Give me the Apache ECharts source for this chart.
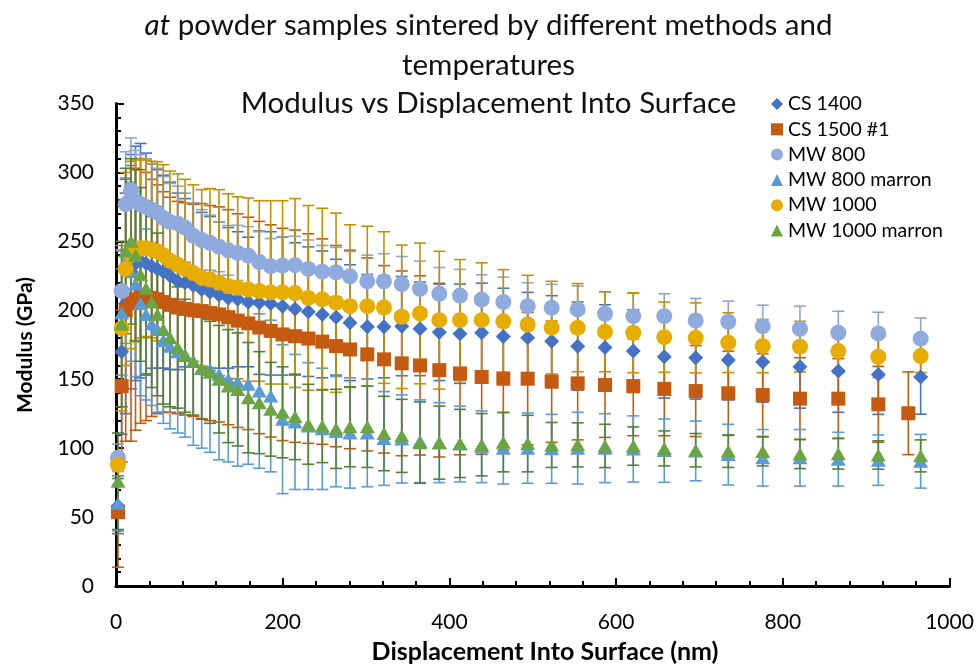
<!DOCTYPE html>
<html><head><meta charset="utf-8">
<script src="https://cdn.jsdelivr.net/npm/echarts@6/dist/echarts.min.js"></script>
<style>html,body{margin:0;padding:0;background:#fff}#c{width:977px;height:664px}</style>
</head><body><div id="c"></div>
<script>
// Displacement Into Surface (nm), shared indentation depths
const depth = [2.4, 6.8, 11.6, 18, 23.4, 29.4, 36, 42.8, 49.6, 56.7, 64.8, 74, 82.8, 92.7, 102.8, 112.8, 123.6, 134.7, 146, 158.7, 171.9, 185.6, 199.8, 214.8, 230.7, 247.5, 264, 280.7, 301.5, 321.5, 342.8, 364.7, 387.9, 412.7, 438.7, 464.7, 493.9, 522.7, 553.9, 586.7, 620.6, 657.8, 695.5, 734.6, 775.9, 820.6, 866.6, 914.6, 965.4];
const depthCS1500 = [2.4, 6.8, 11.6, 18, 23.4, 29.4, 36, 42.8, 49.6, 56.7, 64.8, 74, 82.8, 92.7, 102.8, 112.8, 123.6, 134.7, 146, 158.7, 171.9, 185.6, 199.8, 214.8, 230.7, 247.5, 264, 280.7, 301.5, 321.5, 342.8, 364.7, 387.9, 412.7, 438.7, 464.7, 493.9, 522.7, 553.9, 586.7, 620.6, 657.8, 695.5, 734.6, 775.9, 820.6, 866.6, 914.6, 950.6];

// Modulus (GPa) and error (GPa)
const cs1400 = [58, 170, 205, 228, 234, 236, 234, 232, 230, 228, 225, 221, 220, 218, 215, 213, 211, 209, 208, 206, 205.5, 205, 203, 201, 199, 197, 195, 191, 188, 188, 188.5, 186.6, 184, 183, 183.7, 181, 180, 177.6, 174, 173, 170.4, 166.3, 165.6, 164, 162.4, 159, 156, 153.5, 151.6];
const cs1400Err = [20, 60, 80, 85, 85, 85, 80, 74, 72, 70, 68, 64, 61, 59, 56, 55, 53, 51, 49, 47, 52, 52, 50, 48, 47, 46, 42, 42, 38, 37, 36, 34, 35, 36, 36, 35, 33, 33, 32, 31, 30, 30, 30, 29, 29, 30, 30, 29, 27];

const cs1500 = [53.6, 145, 200, 205, 208, 210, 210, 209, 208, 206, 204, 202, 201, 200, 199.4, 198, 197, 195, 192.5, 190.5, 187.5, 185, 182.5, 181.2, 179.5, 177.3, 174, 171.6, 168, 164.4, 161.5, 160, 156.6, 154.2, 151.6, 150.6, 150.4, 148.2, 147, 145.8, 145, 143, 141.4, 139.8, 138.5, 135.9, 135.9, 131.8, 125.3];
const cs1500Err = [40, 55, 95, 100, 95, 92, 90, 86, 83, 80, 78, 77, 77, 77, 78, 78, 78, 78, 77.5, 77, 77, 77, 77, 77, 76, 74.5, 73, 72, 70, 68, 67, 65, 63, 59, 56, 52, 48, 44, 41, 38, 36, 34, 33, 30.6, 30, 29.7, 29, 27.5, 30];

const mw800 = [93, 214, 277, 287, 279, 277, 275, 273, 271, 267, 264, 263, 260, 254, 251, 249, 246, 243.5, 241.6, 239.7, 235, 232, 232.4, 232.7, 230, 228, 227.6, 224.7, 221, 221, 219, 215.6, 212, 210.7, 207.8, 206, 203, 201.8, 200.6, 197.5, 195.7, 195.7, 192.6, 191.7, 188.5, 186.6, 183.7, 183.2, 179.4];
const mw800Err = [10, 30, 38, 38, 37, 36, 35, 33, 32, 30, 28, 27, 25, 24, 22, 20, 18, 18, 20, 21, 22, 20, 21, 21, 21, 19, 18, 18, 19, 20, 20, 20, 19, 19, 18, 18, 17, 17, 17, 16, 16.7, 16.3, 16, 15, 15.2, 16.4, 15.6, 15.4, 15];

const mw800Marron = [60, 198, 236, 228, 219, 205, 197, 190, 186, 178, 174, 170, 168, 163, 158, 157, 153.5, 150, 148, 146.3, 141.4, 137.8, 121, 119, 116, 114, 112, 111, 111, 107, 106.7, 105, 104, 103, 101, 100, 100, 99.5, 100, 100, 99.4, 98.2, 98, 95.3, 93, 93, 92, 91.3, 90.5];
const mw800MarronErr = [20, 45, 60, 65, 67, 67, 62, 59, 60, 60, 60, 59, 60, 61, 58, 60, 62, 60, 61, 58, 56, 55, 54, 49, 46, 44, 40, 40, 39, 34, 32, 30, 29, 27.5, 26, 26, 25.5, 25, 26, 25, 24, 23, 21.7, 22, 20.5, 20.5, 19.5, 18.3, 19.5];

const mw1000 = [88, 187, 230, 240, 243, 245, 245, 244, 242.8, 240, 236, 233, 230, 227, 223.5, 222.3, 220, 217.5, 216.3, 215, 214, 213, 213, 212.5, 209, 208, 205.5, 203, 203, 202, 195.3, 197.7, 192.8, 192.8, 192.8, 192, 189.7, 187.4, 187.4, 184.4, 183.7, 180.5, 180, 176.5, 174, 173.6, 170.4, 166.3, 166.8];
const mw1000Err = [8, 60, 70, 68, 66, 65, 64, 64, 65, 65.6, 65, 66, 65, 64, 64, 66, 67.5, 67, 66, 66.5, 65.5, 66.5, 66.5, 68.5, 67, 66, 65, 59, 58, 55, 52, 51, 50, 44, 41.6, 37.5, 35.7, 33.6, 32, 29, 29, 25.5, 25.4, 21.7, 19.3, 18.4, 16, 15, 12];

const mw1000Marron = [76, 190, 243, 250, 240, 226, 216, 206, 197, 186, 180, 173, 167, 163, 158, 155, 150, 145, 142.6, 136.6, 133, 128.2, 126, 122.7, 117.3, 116, 114, 115.5, 115.5, 110.6, 108.9, 104, 104, 103.4, 102.5, 104.3, 103.3, 102.3, 102.4, 101.6, 101.5, 99.8, 98.5, 97.8, 97.6, 95.8, 96, 95, 94.4];
const mw1000MarronErr = [35, 60, 60, 60, 62, 63, 63, 62, 59, 54, 50, 44, 41, 39, 37, 37, 39, 41, 41, 40, 37, 34, 33, 31, 29, 26.5, 28.7, 29, 29.5, 27, 26.5, 29.5, 26.5, 24.7, 22.6, 21.5, 20.5, 16.3, 16, 15.7, 13.9, 12.7, 12.1, 11.8, 10.5, 10.6, 11.2, 10.3, 11.6];

const seriesNames = ['CS 1400', 'CS 1500 #1', 'MW 800', 'MW 800 marron', 'MW 1000', 'MW 1000 marron'];
const titleLine1 = '{it|at} powder samples sintered by different methods and';
const titleLine2 = 'temperatures';
const titleLine3 = 'Modulus vs Displacement Into Surface';
const xAxisTitle = 'Displacement Into Surface (nm)';
const yAxisTitle = 'Modulus (GPa)';

const FONT = 'Lato, "Open Sans", sans-serif';
const TITLE_SIZE = 29.5;

const defs = [
  {name: seriesNames[0], x: depth, y: cs1400, e: cs1400Err, symbol: 'diamond', size: [15, 15], color: '#4472C4', bar: '#4472C4'},
  {name: seriesNames[1], x: depthCS1500, y: cs1500, e: cs1500Err, symbol: 'rect', size: [14, 14], color: '#C55A11', bar: '#C55A11'},
  {name: seriesNames[2], x: depth, y: mw800, e: mw800Err, symbol: 'circle', size: [16, 16], color: '#8FAADC', bar: '#8EA5CF'},
  {name: seriesNames[3], x: depth, y: mw800Marron, e: mw800MarronErr, symbol: 'triangle', size: [15, 13], color: '#5B9BD5', bar: '#5B9BD5'},
  {name: seriesNames[4], x: depth, y: mw1000, e: mw1000Err, symbol: 'circle', size: [16, 16], color: '#E6AD00', bar: '#C39200'},
  {name: seriesNames[5], x: depth, y: mw1000Marron, e: mw1000MarronErr, symbol: 'triangle', size: [15, 13], color: '#6AA443', bar: '#548235'}
];

const series = [];
defs.forEach((d) => {
  const data = d.y.map((v, i) => [d.x[i], v, d.e[i]]);
  series.push({
    type: 'custom',
    name: d.name + ' error',
    silent: true,
    z: 2,
    data: data,
    encode: {x: 0, y: 1},
    renderItem: function (params, api) {
      const x = api.value(0), y = api.value(1), e = api.value(2);
      const top = api.coord([x, y + e]);
      const bot = api.coord([x, y - e]);
      const hw = 6;
      const st = {stroke: d.bar, lineWidth: 1.6};
      return {type: 'group', children: [
        {type: 'line', shape: {x1: top[0], y1: top[1], x2: bot[0], y2: bot[1]}, style: st},
        {type: 'line', shape: {x1: top[0] - hw, y1: top[1], x2: top[0] + hw, y2: top[1]}, style: st},
        {type: 'line', shape: {x1: bot[0] - hw, y1: bot[1], x2: bot[0] + hw, y2: bot[1]}, style: st}
      ]};
    }
  });
});
defs.forEach((d) => {
  series.push({
    type: 'scatter',
    name: d.name,
    z: 3,
    symbol: d.symbol,
    symbolSize: d.size,
    itemStyle: {color: d.color, opacity: 1},
    data: d.y.map((v, i) => [d.x[i], v])
  });
});

const axisCommon = {
  axisLine: {show: true, onZero: false, lineStyle: {color: '#000', width: 3}},
  axisTick: {show: true, inside: true, length: 8, lineStyle: {color: '#000', width: 2}},
  minorTick: {show: true, splitNumber: 5, length: 5, lineStyle: {color: '#000', width: 2}},
  splitLine: {show: false}
};
const labelStyle = {color: '#000', fontSize: 21, fontFamily: FONT, formatter: (v) => String(v)};

const titleStyle = {fontSize: TITLE_SIZE, fontWeight: 'normal', color: '#111', fontFamily: FONT};

const chart = echarts.init(document.getElementById('c'), null, {renderer: 'canvas'});
chart.setOption({
  animation: false,
  backgroundColor: '#fff',
  title: [
    {text: titleLine1, left: 'center', top: 10, padding: 0, textStyle: Object.assign({}, titleStyle, {rich: {it: Object.assign({}, titleStyle, {fontStyle: 'italic'})}})},
    {text: titleLine2, left: 'center', top: 50, padding: 0, textStyle: titleStyle},
    {text: titleLine3, left: 'center', top: 88, padding: 0, textStyle: titleStyle}
  ],
  grid: {left: 116, right: 27.5, top: 103.5, bottom: 78, containLabel: false},
  xAxis: Object.assign({type: 'value', min: 0, max: 1000, interval: 200}, axisCommon, {axisLabel: Object.assign({}, labelStyle, {margin: 26})}),
  yAxis: Object.assign({type: 'value', min: 0, max: 350, interval: 50}, axisCommon, {axisLabel: Object.assign({}, labelStyle, {margin: 22})}),
  legend: {
    orient: 'vertical', left: 771, top: 94, padding: 0,
    itemWidth: 12, itemHeight: 12, itemGap: 5.3,
    data: seriesNames,
    textStyle: {fontSize: 19.5, color: '#000', fontFamily: FONT, lineHeight: 20}
  },
  graphic: [
    {type: 'text', x: 545, y: 652, style: {text: xAxisTitle, fontSize: 25, fontWeight: 'bold', fontFamily: FONT, fill: '#000', align: 'center', verticalAlign: 'middle', textAlign: 'center', textVerticalAlign: 'middle'}},
    {type: 'text', x: 25, y: 345, rotation: Math.PI / 2, style: {text: yAxisTitle, fontSize: 21, fontWeight: 'bold', fontFamily: FONT, fill: '#000', align: 'center', verticalAlign: 'middle', textAlign: 'center', textVerticalAlign: 'middle'}}
  ],
  series: series
});
</script>
</body></html>
